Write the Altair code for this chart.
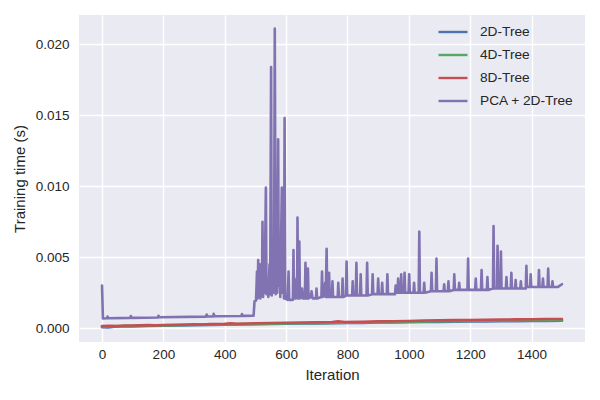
import altair as alt
import pandas as pd

# ---- data ----
series_names = ["2D-Tree", "4D-Tree", "8D-Tree", "PCA + 2D-Tree"]
series_colors = ["#4C72B0", "#55A868", "#C44E52", "#8172B2"]

tree2d_iter = [0, 20, 40, 60, 100, 150, 200, 250, 300, 350, 400, 450, 500, 550, 600, 650,
               700, 750, 800, 850, 900, 950, 1000, 1050, 1100, 1150, 1200, 1250, 1300, 1350,
               1400, 1450, 1499]
tree2d_val = [0.00008, 0.00006, 0.00010, 0.00012, 0.00013, 0.00016, 0.00018, 0.00019, 0.00021,
              0.00023, 0.00025, 0.00026, 0.00028, 0.00030, 0.00031, 0.00033, 0.00034, 0.00036,
              0.00037, 0.00038, 0.00040, 0.00041, 0.00043, 0.00044, 0.00045, 0.00046, 0.00047,
              0.00048, 0.00049, 0.00050, 0.00051, 0.00052, 0.00053]

tree4d_iter = [0, 30, 60, 100, 130, 150, 200, 250, 300, 330, 350, 400, 450, 500, 550, 600, 650,
               700, 750, 800, 850, 900, 950, 1000, 1050, 1100, 1150, 1200, 1250, 1300, 1350,
               1400, 1450, 1499]
tree4d_val = [0.00012, 0.00014, 0.00015, 0.00017, 0.00021, 0.00018, 0.00020, 0.00022, 0.00024,
              0.00027, 0.00025, 0.00027, 0.00029, 0.00030, 0.00032, 0.00033, 0.00035, 0.00036,
              0.00038, 0.00039, 0.00041, 0.00042, 0.00044, 0.00046, 0.00048, 0.00049, 0.00050,
              0.00052, 0.00053, 0.00054, 0.00055, 0.00056, 0.00057, 0.00057]

tree8d_iter = [0, 25, 50, 75, 100, 150, 175, 200, 250, 300, 330, 350, 400, 420, 440, 500, 550,
               600, 650, 700, 750, 770, 790, 850, 900, 950, 1000, 1050, 1100, 1150, 1200, 1250,
               1300, 1350, 1400, 1450, 1499]
tree8d_val = [0.00015, 0.00017, 0.00016, 0.00019, 0.00019, 0.00022, 0.00020, 0.00023, 0.00025,
              0.00027, 0.00026, 0.00029, 0.00031, 0.00035, 0.00031, 0.00035, 0.00037, 0.00039,
              0.00040, 0.00042, 0.00044, 0.00048, 0.00044, 0.00046, 0.00048, 0.00049, 0.00051,
              0.00054, 0.00055, 0.00057, 0.00058, 0.00060, 0.00061, 0.00062, 0.00063, 0.00065,
              0.00065]

pca_points = [
    (0, 0.0030), (3, 0.00068), (16, 0.00070), (18, 0.00082), (21, 0.00070),
    (92, 0.00073), (94, 0.00086), (97, 0.00073), (182, 0.00076), (184, 0.00088),
    (187, 0.00077), (339, 0.00082), (341, 0.00096), (344, 0.00083), (362, 0.00083),
    (364, 0.00101), (367, 0.00084), (454, 0.00086), (456, 0.00100), (459, 0.00087),
    (494, 0.00088), (497, 0.00190), (502, 0.00195), (505, 0.0040), (507, 0.0021),
    (509, 0.0048), (511, 0.0022), (514, 0.0045), (516, 0.0021), (519, 0.0035),
    (521, 0.0023), (523, 0.0075), (525, 0.0022), (528, 0.0040), (530, 0.0025),
    (534, 0.0099), (536, 0.0024), (540, 0.0030), (542, 0.0022), (546, 0.0045),
    (548, 0.0024), (551, 0.0184), (553, 0.0023), (556, 0.0032), (558, 0.0025),
    (561, 0.0060), (563, 0.0211), (566, 0.0024), (569, 0.0045), (571, 0.0025),
    (574, 0.0133), (576, 0.0030), (579, 0.0055), (581, 0.0022), (586, 0.0099),
    (588, 0.0025), (591, 0.0045), (593, 0.0021), (595, 0.0148), (597, 0.0021),
    (605, 0.0020), (608, 0.0040), (610, 0.0020), (622, 0.0020), (624, 0.0055),
    (626, 0.0021), (632, 0.0021), (634, 0.0035), (636, 0.0022), (637, 0.0078),
    (639, 0.0021), (641, 0.0030), (643, 0.0061), (645, 0.0021), (650, 0.0022),
    (652, 0.0028), (654, 0.0021), (661, 0.0021), (663, 0.0046), (665, 0.0021),
    (669, 0.0021), (671, 0.0042), (673, 0.0021), (680, 0.0022), (683, 0.0026),
    (686, 0.0021), (697, 0.0021), (699, 0.0028), (701, 0.0021), (715, 0.0022),
    (717, 0.0040), (719, 0.0022), (725, 0.0023), (727, 0.0032), (729, 0.0022),
    (732, 0.0056), (734, 0.0022), (738, 0.0022), (740, 0.0039), (742, 0.0022),
    (749, 0.0022), (751, 0.0033), (753, 0.0022), (768, 0.0022), (770, 0.0032),
    (772, 0.0022), (782, 0.0022), (784, 0.0035), (786, 0.0022), (795, 0.0023),
    (797, 0.0047), (799, 0.0023), (815, 0.0023), (817, 0.0033), (819, 0.0023),
    (827, 0.0023), (829, 0.0046), (831, 0.0023), (841, 0.0023), (843, 0.0038),
    (845, 0.0023), (862, 0.0023), (864, 0.0046), (866, 0.0023), (880, 0.0024),
    (882, 0.0038), (884, 0.0024), (898, 0.0024), (900, 0.0035), (902, 0.0024),
    (911, 0.0024), (913, 0.0032), (915, 0.0024), (928, 0.0024), (930, 0.0038),
    (932, 0.0024), (955, 0.0024), (957, 0.0030), (959, 0.0025), (963, 0.0025),
    (965, 0.0035), (967, 0.0025), (973, 0.0025), (975, 0.0038), (977, 0.0025),
    (984, 0.0025), (986, 0.0039), (988, 0.0025), (999, 0.0025), (1001, 0.0038),
    (1003, 0.0025), (1015, 0.0025), (1017, 0.0032), (1019, 0.0025), (1032, 0.0025),
    (1034, 0.0068), (1036, 0.0025), (1048, 0.0025), (1050, 0.0032), (1052, 0.0025),
    (1072, 0.0026), (1074, 0.0039), (1076, 0.0026), (1088, 0.0026), (1090, 0.0049),
    (1092, 0.0026), (1113, 0.0026), (1115, 0.0031), (1117, 0.0026), (1127, 0.0026),
    (1129, 0.0033), (1131, 0.0026), (1146, 0.0027), (1148, 0.0038), (1150, 0.0027),
    (1162, 0.0027), (1164, 0.0032), (1166, 0.0027), (1191, 0.0027), (1193, 0.0049),
    (1195, 0.0027), (1216, 0.0027), (1218, 0.0035), (1220, 0.0027), (1235, 0.0027),
    (1237, 0.0041), (1239, 0.0027), (1254, 0.0027), (1256, 0.0036), (1258, 0.0027),
    (1274, 0.0028), (1276, 0.0072), (1278, 0.0028), (1287, 0.0028), (1289, 0.0058),
    (1291, 0.0028), (1298, 0.0028), (1300, 0.0054), (1302, 0.0028), (1316, 0.0028),
    (1318, 0.0036), (1320, 0.0028), (1332, 0.0028), (1334, 0.0039), (1336, 0.0028),
    (1346, 0.0028), (1348, 0.0034), (1350, 0.0028), (1363, 0.0028), (1365, 0.0033),
    (1367, 0.0028), (1381, 0.0028), (1383, 0.0044), (1385, 0.0029), (1395, 0.0029),
    (1397, 0.0038), (1399, 0.0029), (1422, 0.0029), (1424, 0.0041), (1426, 0.0029),
    (1435, 0.0029), (1437, 0.0035), (1439, 0.0029), (1452, 0.0029), (1454, 0.0042),
    (1456, 0.0029), (1466, 0.0029), (1468, 0.0033), (1470, 0.0029), (1485, 0.0029),
    (1492, 0.0030), (1499, 0.0031),
]

x_ticks = [0, 200, 400, 600, 800, 1000, 1200, 1400]
y_ticks = [0.000, 0.005, 0.010, 0.015, 0.020]

# ---- build table ----
rows = []
for it, v in zip(tree2d_iter, tree2d_val):
    rows.append({"series": series_names[0], "iteration": it, "time": v})
for it, v in zip(tree4d_iter, tree4d_val):
    rows.append({"series": series_names[1], "iteration": it, "time": v})
for it, v in zip(tree8d_iter, tree8d_val):
    rows.append({"series": series_names[2], "iteration": it, "time": v})
for it, v in pca_points:
    rows.append({"series": series_names[3], "iteration": it, "time": v})
df = pd.DataFrame(rows)

text_color = "#262626"
font = "Liberation Sans"

chart = alt.Chart(df).mark_line(strokeWidth=2.6, strokeJoin="round", strokeCap="round").encode(
    x=alt.X("iteration:Q",
            scale=alt.Scale(domain=[-75, 1574], nice=False, zero=False),
            axis=alt.Axis(title="Iteration", values=x_ticks, format="d",
                          labelPadding=5, titlePadding=7)),
    y=alt.Y("time:Q",
            scale=alt.Scale(domain=[-0.00097, 0.02206], nice=False, zero=False),
            axis=alt.Axis(title="Training time (s)", values=y_ticks, format=".3f",
                          labelPadding=10, titlePadding=8)),
    color=alt.Color("series:N",
                    scale=alt.Scale(domain=series_names, range=series_colors),
                    legend=alt.Legend(title=None, orient="none", legendX=358, legendY=1,
                                      symbolType="stroke", symbolSize=841,
                                      symbolStrokeWidth=2.4, labelFontSize=13.7,
                                      labelColor=text_color, labelFont=font,
                                      labelOffset=11, rowPadding=-10, padding=0)),
    detail="series:N",
    order=alt.Order("iteration:Q"),
).properties(
    width=506, height=327,
    autosize=alt.AutoSizeParams(type="none"),
    padding={"left": 71, "top": 7, "right": 7, "bottom": 50},
).configure_view(
    fill="#EAEAF2", stroke=None,
).configure_axis(
    grid=True, gridColor="#FFFFFF", gridWidth=1.4, domain=False, ticks=False, tickSize=0,
    labelFont=font, labelFontSize=13.5, labelColor=text_color,
    titleFont=font, titleFontSize=15, titleColor=text_color, titleFontWeight="normal",
)

chart.save("out.html", embed_options={"renderer": "svg", "actions": False})
